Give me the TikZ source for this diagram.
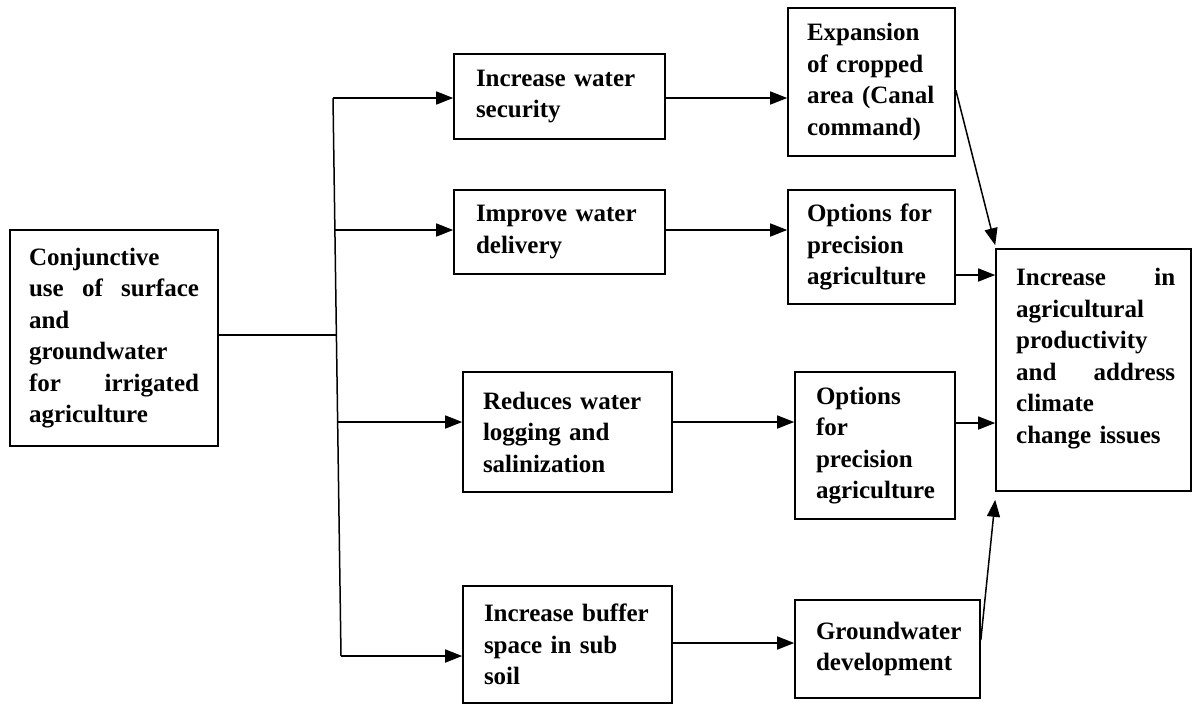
\documentclass[tikz,border=0pt]{standalone}
\usepackage{fontspec}
\setmainfont{Liberation Serif}
\usetikzlibrary{arrows.meta,calc}
\tikzset{
  box/.style={draw, line width=1.6pt, inner sep=0pt, align=left,
    font=\bfseries\fontsize{25}{31.5}\selectfont},
  txt/.style={inner sep=0pt, align=left, font=\bfseries\fontsize{25}{31.5}\selectfont},
  conn/.style={line width=1.5pt},
  arr/.style={line width=1.5pt, -{Triangle[length=17pt,width=13pt]}}
}
\begin{document}
\begin{tikzpicture}[x=1pt,y=-1pt]
\useasboundingbox (0,0) rectangle (1193,705);
% boxes
\node[box, minimum width=208pt, minimum height=216pt, text width=170pt] (L) at (114,338)
  {Conjunctive\\ use \hfill of \hfill surface\\ and\\ groundwater\\ for \hfill irrigated\\ agriculture};
\node[box, minimum width=211pt, minimum height=85pt, text width=167pt] (A) at (559.5,96.5)
  {Increase water\\ security};
\node[box, minimum width=211pt, minimum height=84pt, text width=167pt] (B) at (559.5,232)
  {Improve water\\ delivery};
\node[box, minimum width=209pt, minimum height=120pt, text width=169pt] (C) at (567.5,432)
  {Reduces water\\ logging and\\ salinization};
\node[box, minimum width=209pt, minimum height=117pt, text width=167pt] (D) at (567.5,644.5)
  {Increase buffer\\ space in sub\\ soil};
\node[box, minimum width=167pt, minimum height=148pt, text width=129pt] (E) at (871.5,82)
  {Expansion\\ of cropped\\ area (Canal\\ command)};
\node[box, minimum width=167pt, minimum height=114pt, text width=129pt] (F) at (871.5,247)
  {Options for\\ precision\\ agriculture};
\node[box, minimum width=160pt, minimum height=147pt, text width=118pt] (G) at (875,445.5)
  {Options\\ for\\ precision\\ agriculture};
\node[box, minimum width=185pt, minimum height=98pt, text width=143pt] (H) at (887.5,649)
  {Groundwater\\ development};
\node[box, minimum width=195pt, minimum height=242pt] (R) at (1093.5,370) {};
\node[txt, text width=159pt, anchor=north west] (Rt) at (1016,268)
  {Increase \hfill in\\ agricultural\\ productivity\\ and \hfill address\\ climate\\ change issues};
% trunk
\coordinate (t0) at (336.4,335);
\coordinate (t1) at (333,98);
\coordinate (t2) at (334.9,230);
\coordinate (t3) at (337.6,422);
\coordinate (t4) at (341,656);
\draw[conn] (L.east |- t0) -- (t0);
\draw[conn] (t1) -- (t4);
\draw[arr] (t1) -- (t1 -| A.west);
\draw[arr] (t2) -- (t2 -| B.west);
\draw[arr] (t3) -- (t3 -| C.west);
\draw[arr] (t4) -- (t4 -| D.west);
% second level
\draw[arr] ([yshift=-1.5pt]A.east) -- ([yshift=-1.5pt]A.east -| E.west);
\draw[arr] ([yshift=2pt]B.east) -- ([yshift=2pt]B.east -| F.west);
\draw[arr] ([yshift=10pt]C.east) -- ([yshift=10pt]C.east -| G.west);
\draw[arr] ([yshift=1.5pt]D.east) -- ([yshift=1.5pt]D.east -| H.west);
% to result
\draw[arr] ([yshift=-8pt]E.east) -- ([yshift=3pt]R.north west);
\draw[arr] ([yshift=-28pt]F.east) -- ([yshift=-28pt]F.east -| R.west);
\draw[arr] ([yshift=22.5pt]G.east) -- ([yshift=22.5pt]G.east -| R.west);
\draw[arr] ([yshift=9pt]H.east) -- ([yshift=-8pt]R.south west);
\end{tikzpicture}
\end{document}
